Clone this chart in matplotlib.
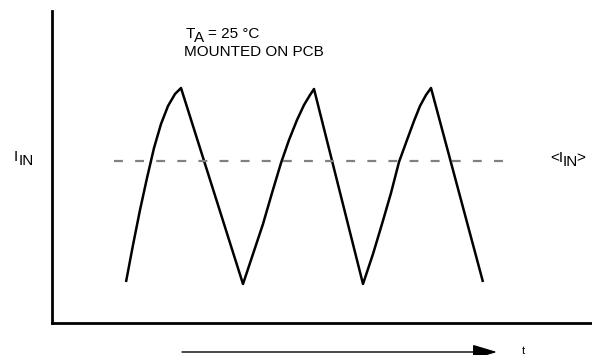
import matplotlib
matplotlib.use("Agg")
import matplotlib.pyplot as plt

plt.rcParams['font.family'] = ['Liberation Sans', 'DejaVu Sans']

# input current waveform (arbitrary time / current units)
wave_t = [74, 81, 88, 95, 102, 109, 116, 123, 129,
          191, 201, 211, 220, 229, 237, 245, 252, 258, 262,
          311, 321, 330, 339, 347, 355, 362, 368, 374, 379, 431]
wave_i = [41, 78, 113, 145, 175, 199, 217, 229, 235,
          39, 69, 99, 130, 160, 183, 203, 218, 228, 234,
          39, 69, 99, 130, 161, 183, 202, 217, 228, 235, 41]

# average current level
avg_t = [62, 455]
avg_i = [162, 162]

W, H = 592, 355
fig = plt.figure(figsize=(W / 100, H / 100), dpi=100)
ax = fig.add_axes([52 / W, 32 / H, 540 / W, 312 / H])
ax.set_xlim(0, 540)
ax.set_ylim(0, 312)

ax.plot(wave_t, wave_i, color='black', lw=1.8, solid_joinstyle='round',
        solid_capstyle='butt')
ax.plot(avg_t, avg_i, color='#808080', lw=1.6, dashes=(4, 5.5))

for s in ['top', 'right']:
    ax.spines[s].set_visible(False)
for s in ['left', 'bottom']:
    ax.spines[s].set_linewidth(2)
    ax.spines[s].set_color('black')
ax.set_xticks([])
ax.set_yticks([])


def ftext(x, y, s, fs=11):
    # x = left edge, y = baseline, both in pixels from the top-left corner
    fig.text(x / W, 1 - y / H, s, va='baseline', ha='left', fontsize=fs)


ftext(185.5, 38, 'T')
ftext(193.5, 42, 'A')
ftext(207.5, 38, '= 25 °C')
ftext(184.5, 55.5, 'MOUNTED ON PCB')

ftext(13.5, 161, 'I')
ftext(18.5, 165, 'IN')

ftext(550.5, 162, '<I')
ftext(562.5, 166, 'IN')
ftext(576.5, 162, '>')

# time arrow
fig.patches.append(matplotlib.patches.FancyArrowPatch(
    (182 / W, 1 - 352 / H), (497 / W, 1 - 352 / H),
    transform=fig.transFigure, arrowstyle='-|>,head_length=1.5,head_width=0.45',
    mutation_scale=10, lw=1, color='black', shrinkA=0, shrinkB=0))
ftext(522, 354, 't', fs=8)

fig.savefig('out.png', dpi=100)
